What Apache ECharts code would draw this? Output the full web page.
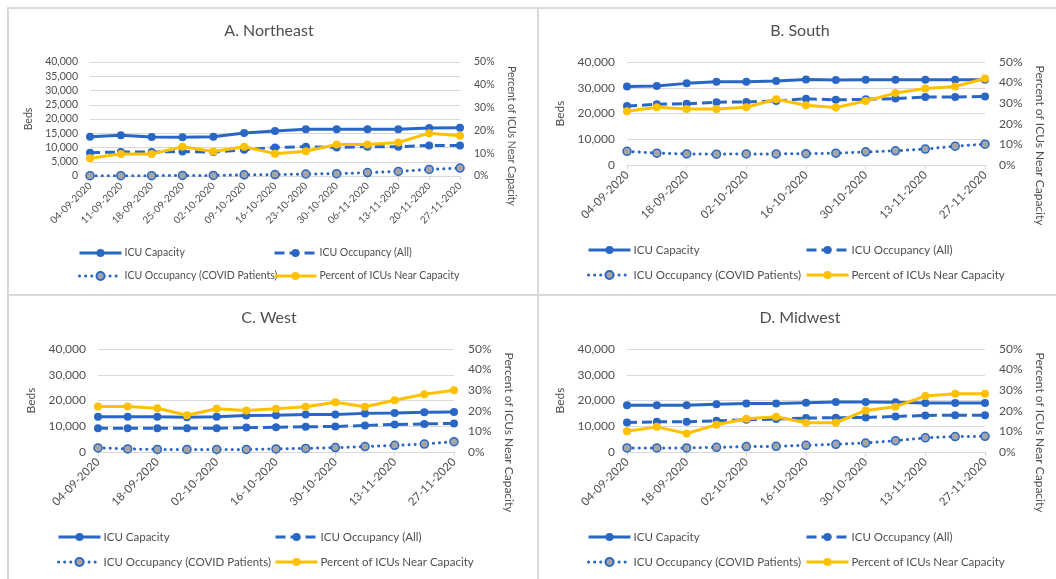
<!DOCTYPE html>
<html>
<head>
<meta charset="utf-8">
<script src="https://cdn.jsdelivr.net/npm/echarts@6/dist/echarts.min.js"></script>
<style>
  html, body { margin: 0; padding: 0; background: #fff; }
  body { width: 1056px; height: 579px; position: relative; overflow: hidden; }
  .frame { position: absolute; box-sizing: border-box; border: 2px solid #dadada; }
  .chart { position: absolute; }
</style>
</head>
<body>
<div class="frame" style="left:7px;top:7px;width:532px;height:289px"></div>
<div class="frame" style="left:537px;top:7px;width:540px;height:289px"></div>
<div class="frame" style="left:7px;top:294px;width:532px;height:300px"></div>
<div class="frame" style="left:537px;top:294px;width:540px;height:300px"></div>
<div id="chartA" class="chart" style="left:8px;top:8px;width:529px;height:286px"></div>
<div id="chartB" class="chart" style="left:538px;top:8px;width:518px;height:286px"></div>
<div id="chartC" class="chart" style="left:8px;top:295px;width:529px;height:284px"></div>
<div id="chartD" class="chart" style="left:538px;top:295px;width:518px;height:284px"></div>
<script>
// 周次（每周五）
const dates = ['04-09-2020', '11-09-2020', '18-09-2020', '25-09-2020', '02-10-2020', '09-10-2020', '16-10-2020',
  '23-10-2020', '30-10-2020', '06-11-2020', '13-11-2020', '20-11-2020', '27-11-2020'];

const seriesNames = ['ICU Capacity', 'ICU Occupancy (All)', 'ICU Occupancy (COVID Patients)', 'Percent of ICUs Near Capacity'];

// A. Northeast
const neCapacity = [13800, 14300, 13700, 13600, 13800, 15100, 15800, 16400, 16400, 16400, 16400, 16800, 16900];
const neOccAll = [8200, 8400, 8400, 8600, 8400, 9200, 10000, 10300, 10000, 10300, 10300, 10700, 10700];
const neOccCovid = [100, 100, 100, 200, 200, 400, 500, 700, 800, 1200, 1600, 2300, 2800];
const nePctNear = [7.8, 9.7, 9.7, 12.8, 10.7, 12.8, 9.8, 10.9, 13.8, 13.8, 14.7, 18.8, 17.7];

// B. South
const soCapacity = [30500, 30700, 31700, 32300, 32300, 32600, 33200, 33000, 33100, 33100, 33100, 33100, 33100];
const soOccAll = [22900, 23600, 23800, 24400, 24500, 24900, 25700, 25300, 25500, 25800, 26400, 26400, 26600];
const soOccCovid = [5300, 4600, 4300, 4200, 4300, 4300, 4400, 4600, 5100, 5500, 6200, 7300, 8100];
const soPctNear = [26.1, 28.0, 27.2, 27.2, 28.0, 31.9, 29.0, 27.9, 31.1, 34.9, 37.1, 38.1, 42.0];

// C. West
const weCapacity = [13700, 13700, 13700, 13500, 13700, 14200, 14300, 14600, 14600, 15000, 15100, 15400, 15500];
const weOccAll = [9200, 9200, 9200, 9200, 9200, 9500, 9600, 9800, 9900, 10300, 10700, 10900, 11100];
const weOccCovid = [1600, 1200, 1000, 1000, 1000, 1000, 1200, 1400, 1700, 2100, 2600, 3100, 4000];
const wePctNear = [22.1, 22.1, 21.2, 17.8, 21.0, 20.2, 21.0, 22.0, 24.1, 22.0, 25.1, 28.0, 30.0];

// D. Midwest
const mwCapacity = [18200, 18200, 18200, 18500, 18800, 18800, 19100, 19400, 19400, 19300, 19000, 19000, 19000];
const mwOccAll = [11500, 11700, 11700, 12100, 12500, 12800, 13200, 13300, 13400, 13800, 14200, 14300, 14300];
const mwOccCovid = [1600, 1600, 1600, 1800, 2100, 2200, 2600, 3000, 3500, 4400, 5500, 6000, 6100];
const mwPctNear = [10.1, 12.2, 9.0, 13.2, 16.1, 17.1, 14.2, 14.2, 20.2, 22.0, 27.2, 28.3, 28.3];

const FONT = 'Lato';
const TEXT = '#4f4f4f';
const GRID_LINE = '#d9d9d9';
const BLUE = '#2a67c4';
const GOLD = '#ffc000';
const GRAY = '#a5a5a5';

function initPanel(el, cfg) {
  const chart = echarts.init(document.getElementById(el));
  const fs = cfg.fontSize;
  const lineSeries = (name, data, extra) => Object.assign({
    name,
    type: 'line',
    data,
    symbol: 'circle',
    symbolSize: 8,
    showSymbol: true,
    color: BLUE,
    itemStyle: { color: BLUE },
    lineStyle: { width: 3, color: BLUE },
  }, extra);

  const legends = seriesNames.map((name, i) => ({
    data: [name],
    left: cfg.legendCols[i % 2],
    top: cfg.legendRows[Math.floor(i / 2)] - 7,
    padding: 0,
    itemWidth: 42,
    itemHeight: 10,
    selectedMode: false,
    lineStyle: { width: 3 },
    textStyle: { fontFamily: FONT, fontSize: cfg.legendSize, color: TEXT, lineHeight: 14, padding: [0, 0, 0, -2] },
  }));

  chart.setOption({
    animation: false,
    textStyle: { fontFamily: FONT },
    title: {
      text: cfg.title,
      left: cfg.titleX,
      textAlign: 'center',
      top: 15,
      padding: 0,
      textStyle: { fontFamily: FONT, fontSize: 16, fontWeight: 'normal', color: TEXT },
    },
    legend: legends,
    grid: cfg.grid,
    xAxis: {
      type: 'category',
      data: dates,
      boundaryGap: false,
      axisLine: { lineStyle: { color: GRID_LINE, width: 1 } },
      axisTick: { show: true, length: 4, interval: cfg.labelInterval, lineStyle: { color: GRID_LINE } },
      axisLabel: {
        interval: cfg.labelInterval,
        rotate: 45,
        margin: 8,
        fontFamily: FONT,
        fontSize: cfg.xLabelSize,
        color: TEXT,
      },
    },
    yAxis: [
      {
        type: 'value',
        min: 0,
        max: 40000,
        interval: cfg.bedsInterval,
        name: 'Beds',
        nameLocation: 'middle',
        nameGap: cfg.bedsGap,
        nameTextStyle: { fontFamily: FONT, fontSize: fs, color: TEXT },
        axisLine: { show: false },
        axisTick: { show: false },
        axisLabel: {
          margin: 12,
          fontFamily: FONT,
          fontSize: fs,
          color: TEXT,
          formatter: v => v.toLocaleString('en-US'),
        },
        splitLine: { lineStyle: { color: GRID_LINE, width: 1 } },
      },
      {
        type: 'value',
        min: 0,
        max: 50,
        interval: 10,
        position: 'right',
        name: 'Percent of ICUs Near Capacity',
        nameLocation: 'middle',
        nameRotate: -90,
        nameGap: cfg.pctGap,
        // Excel 把副轴标题居中在绘图区+日期标签之间，向下挪一点
        nameTextStyle: { fontFamily: FONT, fontSize: fs, color: TEXT, padding: [0, 0, 0, cfg.pctShift * 2] },
        axisLine: { show: false },
        axisTick: { show: false },
        axisLabel: { margin: 14, fontFamily: FONT, fontSize: fs, color: TEXT, formatter: '{value}%' },
        splitLine: { show: false },
      },
    ],
    series: [
      lineSeries(seriesNames[0], cfg.capacity, { z: 2 }),
      lineSeries(seriesNames[1], cfg.occAll, { z: 3, lineStyle: { width: 3, color: BLUE, type: [10, 5] } }),
      lineSeries(seriesNames[2], cfg.occCovid, {
        z: 4,
        itemStyle: { color: GRAY, borderColor: BLUE, borderWidth: 1.5 },
        lineStyle: { width: 3, color: BLUE, type: [0.1, 6], cap: 'round' },
      }),
      lineSeries(seriesNames[3], cfg.pctNear, {
        z: 5,
        yAxisIndex: 1,
        color: GOLD,
        itemStyle: { color: GOLD },
        lineStyle: { width: 3, color: GOLD },
      }),
    ],
  });
  return chart;
}

const smallPanel = { fontSize: 10.5, legendSize: 10.5, xLabelSize: 10, bedsInterval: 5000, labelInterval: 0 };
const bigPanel = { fontSize: 12, legendSize: 11.5, xLabelSize: 11.5, bedsInterval: 10000, labelInterval: 1 };

initPanel('chartA', Object.assign({}, smallPanel, {
  title: 'A. Northeast', titleX: 261,
  grid: { left: 82, top: 54, width: 370, height: 114 },
  bedsGap: 48, pctGap: 39, pctShift: 17,
  legendCols: [70, 265], legendRows: [245, 268],
  capacity: neCapacity, occAll: neOccAll, occCovid: neOccCovid, pctNear: nePctNear,
}));

initPanel('chartB', Object.assign({}, bigPanel, {
  title: 'B. South', titleX: 262,
  grid: { left: 89, top: 54, width: 358, height: 103 },
  bedsGap: 56, pctGap: 44, pctShift: 32,
  legendCols: [49, 267], legendRows: [242, 267],
  capacity: soCapacity, occAll: soOccAll, occCovid: soOccCovid, pctNear: soPctNear,
}));

initPanel('chartC', Object.assign({}, bigPanel, {
  title: 'C. West', titleX: 261,
  grid: { left: 90, top: 54, width: 356, height: 103 },
  bedsGap: 57, pctGap: 43, pctShift: 32,
  legendCols: [49, 266], legendRows: [242, 267],
  capacity: weCapacity, occAll: weOccAll, occCovid: weOccCovid, pctNear: wePctNear,
}));

initPanel('chartD', Object.assign({}, bigPanel, {
  title: 'D. Midwest', titleX: 262,
  grid: { left: 89, top: 54, width: 358, height: 103 },
  bedsGap: 56, pctGap: 43, pctShift: 32,
  legendCols: [49, 267], legendRows: [242, 267],
  capacity: mwCapacity, occAll: mwOccAll, occCovid: mwOccCovid, pctNear: mwPctNear,
}));
</script>
</body>
</html>
